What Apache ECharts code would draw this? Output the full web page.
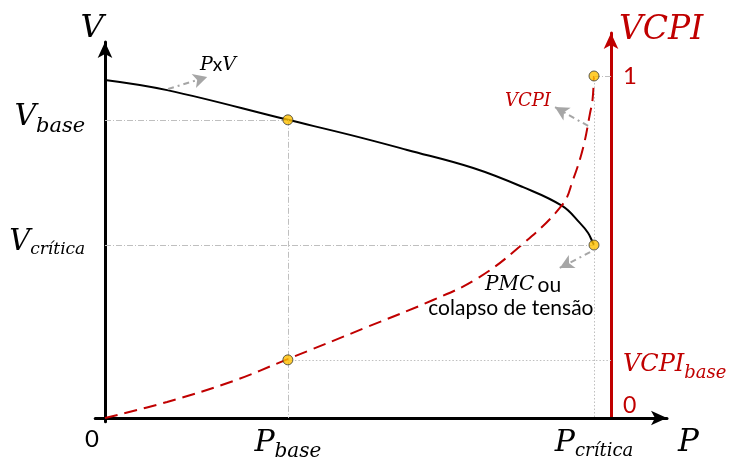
<!DOCTYPE html>
<html><head><meta charset="utf-8">
<script src="https://cdn.jsdelivr.net/npm/echarts@6/dist/echarts.min.js"></script>
<style>html,body{margin:0;padding:0;background:#fff}#c{width:732px;height:457px}</style>
</head><body><div id="c"></div>
<script>
// ---- data (normalised units) ----
const pvP   = [0, 0.127, 0.374, 0.501, 0.618, 0.753, 0.855, 0.935, 0.971, 0.988, 0.998, 1.000];
const pvV   = [0.899, 0.872, 0.793, 0.753, 0.713, 0.665, 0.614, 0.564, 0.519, 0.492, 0.465, 0.460];
const vcpiP = [0, 0.127, 0.262, 0.370, 0.536, 0.671, 0.759, 0.847, 0.935, 0.957, 0.978, 0.992, 0.997, 1.000];
const vcpiV = [0, 0.047, 0.108, 0.170, 0.266, 0.345, 0.406, 0.500, 0.623, 0.696, 0.792, 0.892, 0.930, 1.000];
const P_BASE = 0.374, P_CRIT = 1.0;
const V_BASE = 0.793, V_CRIT = 0.460;
const VCPI_BASE = 0.170, VCPI_MAX = 1.0;
const xTickValues = [0, P_BASE, P_CRIT];
const xTickLabels = ['0', 'P|base', 'P|crítica'];
const leftTickValues = [V_CRIT, V_BASE];
const leftTickLabels = ['V|crítica', 'V|base'];
const rightTickValues = [0, VCPI_BASE, VCPI_MAX];
const rightTickLabels = ['0', 'VCPI|base', '1'];

// ---- layout ----
const SER = '"DejaVu Serif", serif';
const SANS = 'Lato, "Open Sans", sans-serif';
const RED = '#c00000';
const GUIDE = '#bfbfbf';
const ARROW = '#a6a6a6';
const PXU = 489, PYU = 376, PYR = 342;
const X0 = 105, Y0 = 418;
const xMin = -0.02, x1Max = 1.1493, x2Max = 1.0348;
const yMin = -0.01;

function richMath(color, big, padTop, padBot, bSize, cSize) {
  const m = {fontFamily: SER, fontStyle: 'italic', fontSize: big, lineHeight: big + 6, verticalAlign: 'top', color: color, padding: [padTop, 0, padBot, 0]};
  const sub = sz => ({fontFamily: SER, fontStyle: 'italic', fontSize: sz, lineHeight: sz, verticalAlign: 'top', color: color,
                      padding: [padTop + big * 0.47, 0, padBot + (big + 6) - big * 0.47 - sz, 0]});
  return {m: m, b: sub(bSize || 20), c: sub(cSize || 18)};
}
function fmtSub(lbl) {
  const p = lbl.split('|');
  if (p.length === 1) return '{n|' + p[0] + '}';
  return '{m|' + p[0] + '}{' + (p[1] === 'base' ? 'b' : 'c') + '|' + p[1] + '}';
}

const chart = echarts.init(document.getElementById('c'), null, {renderer: 'canvas'});
const guideStyle = {color: GUIDE, width: 1, type: [6, 2, 1, 2]};
const dotStyle = {color: GUIDE, width: 1, type: [1.5, 2]};
const arrowStyle = {color: ARROW, width: 2, type: [6, 4, 2, 4]};

chart.setOption({
  animation: false,
  grid: [
    {left: X0 + xMin * PXU, width: (x1Max - xMin) * PXU, top: 42, height: (1 - yMin) * PYU, outerBoundsMode: 'none', containLabel: false},
    {left: X0 + xMin * PXU, width: (x2Max - xMin) * PXU, top: 33, height: Y0 - 33, outerBoundsMode: 'none', containLabel: false}
  ],
  xAxis: [
    {
      type: 'value', gridIndex: 0, min: xMin, max: x1Max,
      splitLine: {show: false}, axisTick: {show: false},
      axisLine: {onZero: true, lineStyle: {color: '#000', width: 3}, symbol: ['none', 'arrow'], symbolSize: [11, 16]},
      axisLabel: {
        customValues: xTickValues, margin: 6,
        formatter: v => {
          const i = xTickValues.findIndex(t => Math.abs(t - v) < 1e-6);
          return i === 0 ? '{z|0}' : fmtSub(xTickLabels[i]);
        },
        rich: Object.assign(richMath('#000', 30, 0, 0, 20, 18), {
          z: {fontFamily: SANS, fontSize: 24, color: '#000', padding: [0, 26, 0, 0]}
        })
      },
      name: 'P', nameLocation: 'end', nameGap: 11,
      nameTextStyle: {fontFamily: SER, fontStyle: 'italic', fontSize: 31, color: '#000', align: 'left', verticalAlign: 'top', lineHeight: 31, padding: [9, 0, 0, 0]}
    },
    {type: 'value', gridIndex: 1, min: xMin, max: x2Max, show: false}
  ],
  yAxis: [
    {
      type: 'value', gridIndex: 0, min: yMin, max: 1,
      splitLine: {show: false}, axisTick: {show: false},
      axisLine: {onZero: true, lineStyle: {color: '#000', width: 3}, symbol: ['none', 'arrow'], symbolSize: [11, 16]},
      axisLabel: {
        customValues: leftTickValues, margin: 10,
        formatter: v => {
          const i = leftTickValues.findIndex(t => Math.abs(t - v) < 1e-6);
          const p = leftTickLabels[i].split('|');
          if (i === 1) return '{mu|' + p[0] + '}{bu|' + p[1] + '}';
          return fmtSub(leftTickLabels[i]);
        },
        rich: (() => {
          const r = richMath('#000', 29, 0, 0, 21, 17);
          const u = richMath('#000', 30, 0, 28, 21, 17);
          r.mu = u.m; r.bu = u.b;
          return r;
        })()
      },
      name: 'V', nameLocation: 'end', nameGap: 13,
      nameTextStyle: {fontFamily: SER, fontStyle: 'italic', fontSize: 32, color: '#000', align: 'center', verticalAlign: 'middle', padding: [0, 26, 0, 0]}
    },
    {
      type: 'value', gridIndex: 1, min: 0, max: (Y0 - 33) / PYR, position: 'right',
      splitLine: {show: false}, axisTick: {show: false},
      axisLine: {onZero: false, lineStyle: {color: RED, width: 3}, symbol: ['none', 'arrow'], symbolSize: [11, 16]},
      axisLabel: {
        customValues: rightTickValues, margin: 12,
        formatter: v => {
          const i = rightTickValues.findIndex(t => Math.abs(t - v) < 1e-6);
          if (i === 0) return '{z|0}';
          const p = rightTickLabels[i].split('|');
          if (p.length === 1) return '{n|' + p[0] + '}';
          return '{m|' + p[0] + '}{b|' + p[1] + '}';
        },
        rich: Object.assign(richMath(RED, 24, 8, 0, 18, 18), {
          z: {fontFamily: SANS, fontSize: 23, color: RED, padding: [0, 0, 24, 0]},
          n: {fontFamily: SANS, fontSize: 24, color: RED}
        })
      },
      name: 'VCPI', nameLocation: 'end', nameGap: 3,
      nameTextStyle: {fontFamily: SER, fontStyle: 'italic', fontSize: 33, color: RED, align: 'left', verticalAlign: 'middle', padding: [0, 0, 0, 8]}
    }
  ],
  series: [
    {
      type: 'line', xAxisIndex: 0, yAxisIndex: 0, data: [], z: 1, silent: true,
      markLine: {
        silent: true, symbol: ['none', 'none'], label: {show: false}, lineStyle: guideStyle, animation: false,
        data: [
          [{coord: [0, V_BASE]}, {coord: [P_BASE, V_BASE]}],
          [{coord: [P_BASE, V_BASE]}, {coord: [P_BASE, 0]}],
          [{coord: [0, V_CRIT]}, {coord: [P_CRIT, V_CRIT]}]
        ]
      }
    },
    {
      type: 'line', xAxisIndex: 1, yAxisIndex: 1, data: [], z: 1, silent: true,
      markLine: {
        silent: true, symbol: ['none', 'none'], label: {show: false}, lineStyle: dotStyle, animation: false,
        data: [
          [{coord: [P_CRIT, VCPI_MAX]}, {coord: [P_CRIT, 0]}],
          [{coord: [P_BASE, VCPI_BASE]}, {coord: [x2Max, VCPI_BASE]}],
          [{coord: [P_CRIT, VCPI_MAX], lineStyle: guideStyle}, {coord: [x2Max, VCPI_MAX]}]
        ]
      }
    },
    {
      name: 'PxV', type: 'line', xAxisIndex: 0, yAxisIndex: 0, z: 3,
      data: pvP.map((p, i) => [p, pvV[i]]),
      showSymbol: false, smooth: 0.4,
      lineStyle: {color: '#000', width: 2}
    },
    {
      name: 'VCPI', type: 'line', xAxisIndex: 1, yAxisIndex: 1, z: 3,
      data: vcpiP.map((p, i) => [p, vcpiV[i]]),
      showSymbol: false, smooth: 0.4,
      lineStyle: {color: RED, width: 2, type: [13, 7]}
    },
    {
      type: 'scatter', xAxisIndex: 0, yAxisIndex: 0, z: 5,
      data: [[P_BASE, V_BASE], [P_CRIT, V_CRIT]],
      symbolSize: 10, itemStyle: {color: '#ffc000', borderColor: '#3a3a3a', borderWidth: 1},
      markLine: {
        silent: true, symbol: ['none', 'arrow'], symbolSize: [11, 14], label: {show: false}, lineStyle: arrowStyle, animation: false,
        data: [
          [{coord: [0.129, 0.875]}, {coord: [0.209, 0.907]}],
          [{coord: [0.992, 0.441]}, {coord: [0.930, 0.399]}]
        ]
      },
      markPoint: {
        silent: true, symbol: 'circle', symbolSize: 1, itemStyle: {color: 'rgba(0,0,0,0)'}, animation: false,
        label: {show: true, position: 'inside', color: '#000'},
        data: [
          {coord: [0.231, 0.939], label: {formatter: '{i|P}{x|x}{i|V}', rich: {
            i: {fontFamily: SER, fontStyle: 'italic', fontSize: 19, color: '#000'},
            x: {fontFamily: SANS, fontSize: 19, color: '#000'}}}},
          {coord: [0.855, 0.354], label: {formatter: '{i|PMC} {x|ou}', rich: {
            i: {fontFamily: SER, fontStyle: 'italic', fontSize: 20, color: '#000'},
            x: {fontFamily: SANS, fontSize: 21, color: '#000'}}}},
          {coord: [0.830, 0.293], label: {formatter: 'colapso de tensão', fontFamily: SANS, fontSize: 21, color: '#000'}}
        ]
      }
    },
    {
      type: 'scatter', xAxisIndex: 1, yAxisIndex: 1, z: 5,
      data: [[P_BASE, VCPI_BASE], [P_CRIT, VCPI_MAX]],
      symbolSize: 10, itemStyle: {color: '#ffc000', borderColor: '#3a3a3a', borderWidth: 1},
      markLine: {
        silent: true, symbol: ['none', 'arrow'], symbolSize: [11, 14], label: {show: false}, lineStyle: arrowStyle, animation: false,
        data: [
          [{coord: [0.988, 0.854]}, {coord: [0.920, 0.909]}]
        ]
      },
      markPoint: {
        silent: true, symbol: 'circle', symbolSize: 1, itemStyle: {color: 'rgba(0,0,0,0)'}, animation: false,
        label: {show: true, position: 'inside'},
        data: [
          {coord: [0.865, 0.927], label: {formatter: 'VCPI', fontFamily: SER, fontStyle: 'italic', fontSize: 18, color: RED}}
        ]
      }
    }
  ]
});
</script>
</body></html>
